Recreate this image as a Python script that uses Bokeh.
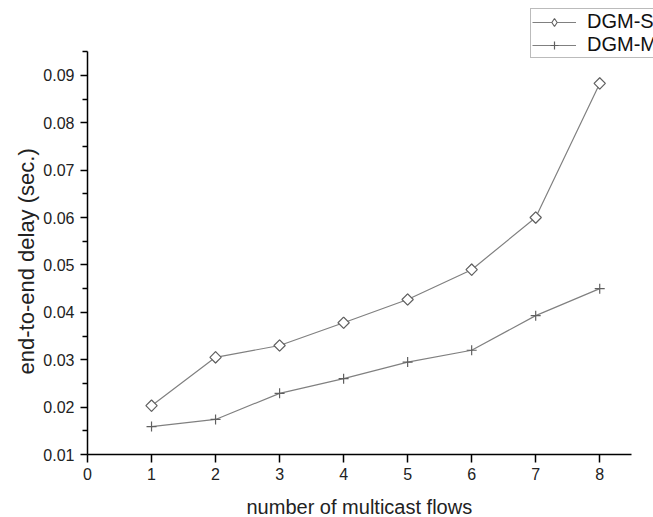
import math
from bokeh.plotting import figure
from bokeh.models import Range1d, FixedTicker, Legend, LegendItem, Title
from bokeh.embed import file_html
from bokeh.resources import INLINE

flows = [1, 2, 3, 4, 5, 6, 7, 8]
dgm_s = [0.0203, 0.0305, 0.0330, 0.0378, 0.0427, 0.0490, 0.0600, 0.0883]
dgm_m = [0.0159, 0.0174, 0.0229, 0.0260, 0.0295, 0.0320, 0.0393, 0.0450]
x_ticks = [0, 1, 2, 3, 4, 5, 6, 7, 8]
y_ticks = [0.01, 0.02, 0.03, 0.04, 0.05, 0.06, 0.07, 0.08, 0.09]
y_minor = [0.015, 0.025, 0.035, 0.045, 0.055, 0.065, 0.075, 0.085, 0.095]
x_title = "number of multicast flows"
y_title = "end-to-end delay (sec.)"

FONT = "Liberation Sans"
LINE = "#808080"
MARK = "#606060"
TXT = "#222222"

p = figure(width=653, height=517, output_backend="svg", toolbar_location=None,
           x_range=Range1d(0, 8.84), y_range=Range1d(0.01, 0.1058),
           min_border_left=87, min_border_right=0, min_border_top=0, min_border_bottom=63)
p.outline_line_color = None
p.xgrid.visible = False
p.ygrid.visible = False
p.background_fill_color = "white"
p.border_fill_color = "white"

p.xaxis.ticker = FixedTicker(ticks=x_ticks)
p.yaxis.ticker = FixedTicker(ticks=y_ticks, minor_ticks=y_minor)
p.yaxis.formatter.use_scientific = False
p.xaxis.bounds = (0, 8.5)
p.yaxis.bounds = (0.01, 0.095)

for ax in (p.xaxis[0], p.yaxis[0]):
    ax.axis_line_color = "black"
    ax.axis_line_width = 1.5
    ax.major_tick_line_color = "black"
    ax.major_tick_line_width = 1.5
    ax.minor_tick_line_color = "black"
    ax.minor_tick_line_width = 1.5
    ax.major_tick_in = 0
    ax.minor_tick_in = 0
    ax.major_label_text_font = FONT
    ax.major_label_text_font_size = "16px"
    ax.major_label_text_color = TXT

p.xaxis.major_tick_out = 8
p.xaxis.minor_tick_out = 0
p.yaxis.major_tick_out = 7
p.yaxis.minor_tick_out = 5
p.xaxis.major_label_standoff = 5
p.yaxis.major_label_standoff = 6
# a blank, tiny axis label only adds a little space below the tick labels
p.xaxis.axis_label = " "
p.xaxis.axis_label_text_font_size = "6px"
p.xaxis.axis_label_standoff = 2

p.add_layout(Title(text=x_title, align="left", offset=159, standoff=0,
                   text_font=FONT, text_font_size="20px", text_font_style="normal",
                   text_color=TXT), "below")
p.add_layout(Title(text=y_title, align="left", offset=80, standoff=4,
                   text_font=FONT, text_font_size="22px", text_font_style="normal",
                   text_color=TXT), "left")

ls = p.line(flows, dgm_s, line_color=LINE, line_width=1.2)
# narrow diamond underneath: it is what the legend shows for this series
ks = p.scatter(flows, dgm_s, marker="diamond", size=11,
               fill_color="white", line_color=MARK, line_width=1.1)
ms = p.scatter(flows, dgm_s, marker="square", angle=math.pi / 4, size=8,
               fill_color="white", line_color=MARK, line_width=1.2)
lm = p.line(flows, dgm_m, line_color=LINE, line_width=1.2)
mm = p.scatter(flows, dgm_m, marker="cross", size=10, line_color=MARK, line_width=1.2)

legend = Legend(items=[LegendItem(label="DGM-S", renderers=[ls, ks]),
                       LegendItem(label="DGM-M", renderers=[lm, mm])],
                location=(443, 396), margin=0, padding=1, spacing=0,
                glyph_width=44, glyph_height=20, label_height=20, label_standoff=11,
                label_text_font=FONT, label_text_font_size="20px",
                label_text_color="#111111",
                border_line_color="#777777", border_line_width=1.5,
                background_fill_color="white", background_fill_alpha=1.0)
p.add_layout(legend, "center")

open("out.html", "w").write(file_html(p, INLINE))
